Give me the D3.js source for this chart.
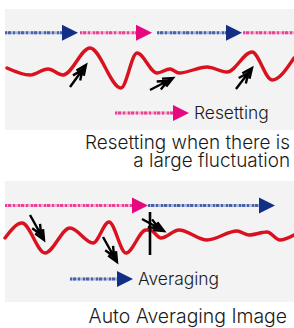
<!DOCTYPE html>
<html><head><meta charset="utf-8">
<script src="https://cdn.jsdelivr.net/npm/d3@7"></script>
<style>html,body{margin:0;padding:0;background:#fff;}svg{display:block;}</style>
</head><body>
<script>
// ---- data ----
// signal curves: [time, amplitude]
const waveReset = [[2,0],[25,-7],[43,-1],[58,-7],[85,20],[116,-20],[132,15],[152,-5],[165,-1],[174,-5],[202,1],[222,-4],[247,16],[267,-12],[289,10]];
const waveAvg = [[0,0],[17,15],[40,-15],[65,10],[88,-5],[104,16],[121,-15],[141,8],[145,8],[156,0],[174,8],[202,-2],[232,7],[244,3],[262,6],[275,-2],[289,3]];
// dotted timeline segments: [start, end, color, withHead]
const segReset = [[0,73,"blue",true],[75,147,"pink",true],[152,237,"blue",true],[238,289,"pink",false]];
const segAvg = [[0,143,"pink",true],[143,270,"blue",true]];
const timelineLevelReset = 35.3, timelineLevelAvg = 32.5;
// black event arrows: [tailT, tailV, tipT, tipV]
const arrowsReset = [[65,-19,81,3],[145,-22,168,-10],[231,-21,247,0]];
const arrowsAvg = [[25,23,39,-2],[98,1,112,-24],[137,19,159,7]];
const averagingMark = [145, 26, -17]; // time, top, bottom
const legendReset = {label:"Resetting", start:110, end:184, level:-45, color:"pink"};
const legendAvg = {label:"Averaging", start:65, end:128, level:-41, color:"blue"};
const titleReset = ["Resetting when there is", "a large fluctuation"];
const titleAvg = ["Auto Averaging Image"];

const W = 294, H = 328;
const FONT = "Inter, 'Liberation Sans', Arial, sans-serif";
const colors = {
  blue:{dark:"#1f3f94", light:"#a9b5dc", head:"#132f85"},
  pink:{dark:"#e2177f", light:"#f4a9cc", head:"#e5087e"}
};
const svg = d3.select("body").append("svg").attr("width",W).attr("height",H);
const x = d3.scaleLinear().domain([0,289]).range([5,294]);
const panels = [
  {top:9, y:d3.scaleLinear().domain([-62,59]).range([130,9]), wave:waveReset, seg:segReset, lvl:timelineLevelReset, arrows:arrowsReset, legend:legendReset, title:titleReset, titleY:[148.5,167], titleX:290, titleSize:18.9},
  {top:181, y:d3.scaleLinear().domain([-64,57]).range([302,181]), wave:waveAvg, seg:segAvg, lvl:timelineLevelAvg, arrows:arrowsAvg, legend:legendAvg, title:titleAvg, titleY:[323], titleX:287, titleSize:19.4, mark:averagingMark}
];

function dotted(g, x0, x1, y, c, head){
  const col = colors[c];
  const hl = 16, hw = 8;
  const xe = head ? x1 - hl : x1;
  g.append("line").attr("x1",x0).attr("x2",xe).attr("y1",y).attr("y2",y)
    .attr("stroke",col.light).attr("stroke-width",3);
  g.append("line").attr("x1",x0).attr("x2",xe).attr("y1",y).attr("y2",y)
    .attr("stroke",col.dark).attr("stroke-width",3).attr("stroke-opacity",0.7)
    .attr("stroke-dasharray","2,1,3,2,2,3");
  if(head){
    g.append("path").attr("d",`M${x1-hl},${y-hw}L${x1},${y}L${x1-hl},${y+hw}Z`).attr("fill",col.head);
  }
}

function blackArrow(g, x0, y0, x1, y1){
  const dx = x1-x0, dy = y1-y0, L = Math.hypot(dx,dy);
  const ux = dx/L, uy = dy/L;
  const hl = 11, a = 0.42;
  const p = [];
  p.push(`M${x0},${y0}L${x1},${y1}`);
  [0, 6].forEach(off=>{
    const tx = x1 - ux*off, ty = y1 - uy*off;
    const c = Math.cos(a), s = Math.sin(a);
    const b1x = tx - hl*(ux*c - uy*s), b1y = ty - hl*(uy*c + ux*s);
    const b2x = tx - hl*(ux*c + uy*s), b2y = ty - hl*(uy*c - ux*s);
    p.push(`M${b1x},${b1y}L${tx},${ty}L${b2x},${b2y}`);
  });
  g.append("path").attr("d",p.join("")).attr("fill","none").attr("stroke","#000")
    .attr("stroke-width",2.4).attr("stroke-linejoin","miter").attr("stroke-linecap","butt");
}

panels.forEach(P=>{
  const g = svg.append("g");
  g.append("rect").attr("x",5).attr("y",P.top).attr("width",289).attr("height",121).attr("fill","#f3f3f3");
  P.seg.forEach(s=>dotted(g, x(s[0]), x(s[1]), P.y(P.lvl), s[2], s[3]));
  const line = d3.line().x(d=>x(d[0])).y(d=>P.y(d[1])).curve(d3.curveMonotoneX);
  g.append("path").datum(P.wave).attr("d",line).attr("fill","none")
    .attr("stroke","#d9121f").attr("stroke-width",3.4).attr("stroke-linecap","round");
  P.arrows.forEach(a=>blackArrow(g, x(a[0]), P.y(a[1]), x(a[2]), P.y(a[3])));
  if(P.mark){
    g.append("line").attr("x1",x(P.mark[0])).attr("x2",x(P.mark[0]))
      .attr("y1",P.y(P.mark[1])).attr("y2",P.y(P.mark[2])).attr("stroke","#000").attr("stroke-width",2.6);
  }
  const L = P.legend;
  dotted(g, x(L.start), x(L.end), P.y(L.level), L.color, true);
  g.append("text").attr("x",x(L.end)+5).attr("y",P.y(L.level)+6).text(L.label)
    .attr("font-family",FONT).attr("font-weight",300).attr("font-size",17.4).attr("fill","#1a1a1a");
  P.title.forEach((t,i)=>{
    svg.append("text").attr("x",P.titleX).attr("y",P.titleY[i]).attr("text-anchor","end").text(t)
      .attr("font-family",FONT).attr("font-weight",300).attr("font-size",P.titleSize).attr("fill","#1a1a1a");
  });
});
</script>
</body></html>
